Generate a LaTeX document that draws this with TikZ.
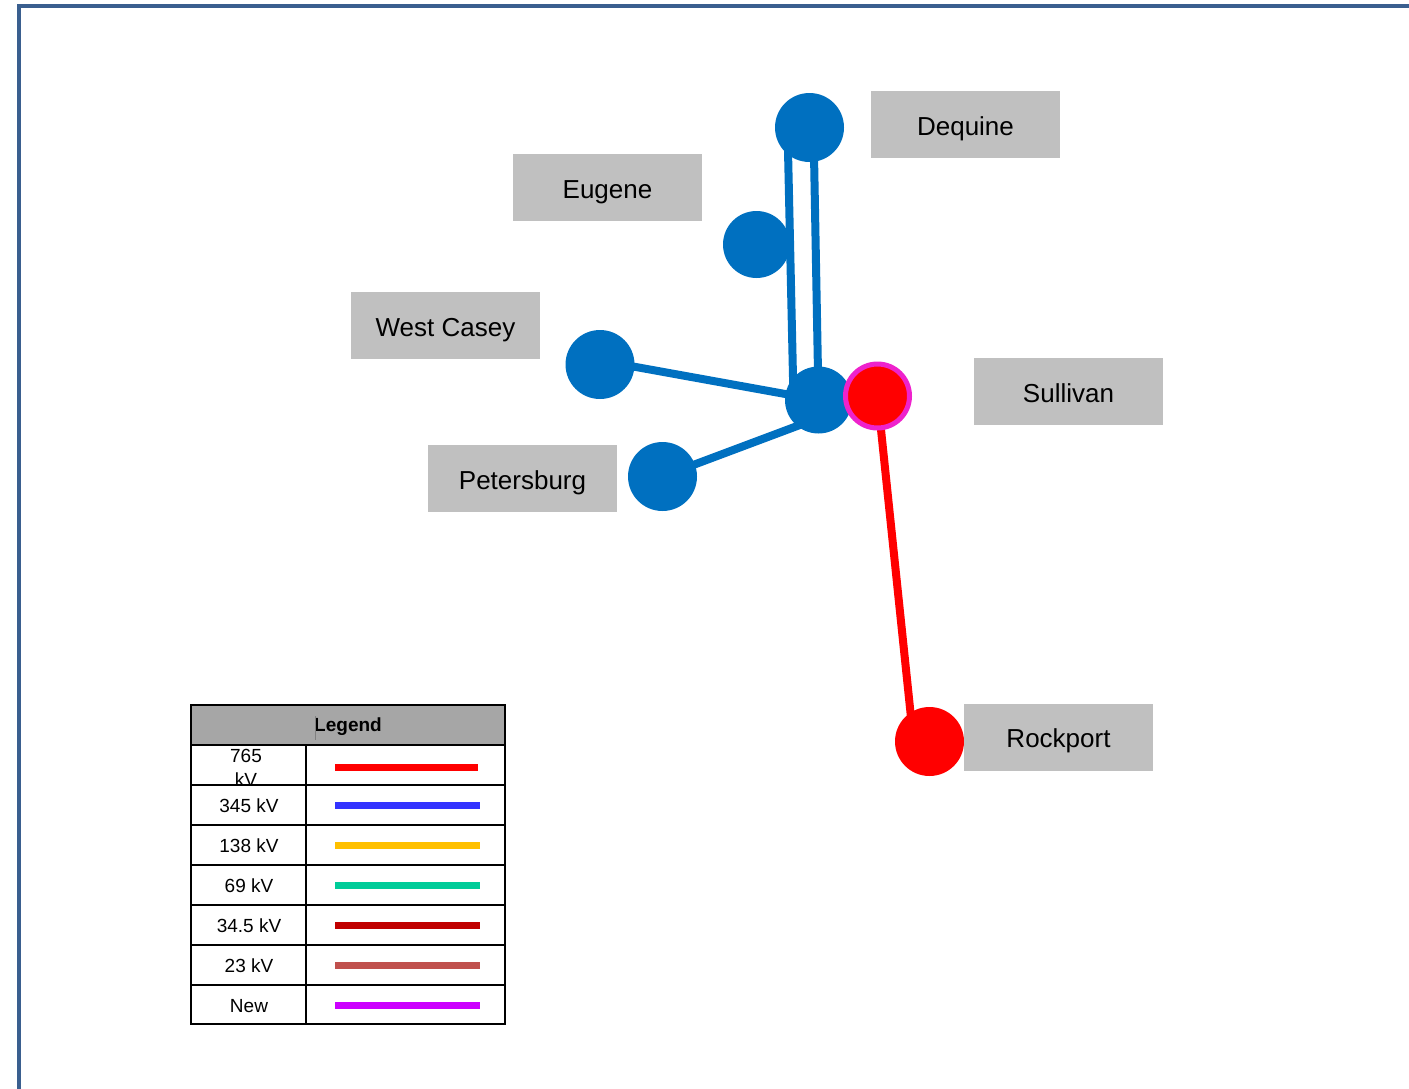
\documentclass[tikz,border=0pt]{standalone}
\usepackage{fontspec}
\setmainfont{Liberation Sans}
\usetikzlibrary{backgrounds}
\definecolor{framblue}{HTML}{3A5F8F}
\definecolor{busblue}{HTML}{0070C0}
\definecolor{labgray}{HTML}{C0C0C0}
\definecolor{headgray}{HTML}{A6A6A6}
\definecolor{newmag}{HTML}{EE22CC}
\definecolor{kvred}{HTML}{FF0000}
\definecolor{kvblue}{HTML}{3333FF}
\definecolor{kvorange}{HTML}{FFC000}
\definecolor{kvgreen}{HTML}{00CC99}
\definecolor{kvdark}{HTML}{C00000}
\definecolor{kvrose}{HTML}{C0504D}
\definecolor{kvnew}{HTML}{CC00FF}
\tikzset{
  bus/.style={circle,fill=busblue,minimum size=34.5pt,inner sep=0pt,outer sep=0pt},
  namebox/.style={fill=labgray,minimum width=94.5pt,minimum height=33.5pt,inner sep=0pt,
    text height=10.8pt,text depth=0pt,font=\fontsize{13}{15}\selectfont},
  line345/.style={busblue,line width=4pt},
  cellfont/.style={font=\fontsize{9.5}{12}\selectfont}
}

\begin{document}
\begin{tikzpicture}[x=0.5pt,y=-0.5pt]
  \useasboundingbox (0,0) rectangle (1409,1088);
  \draw[framblue,line width=2pt] (19,1090) -- (19,6) -- (1411,6);
  % stations
  \node[bus] (deq) at (809.5,127.5) {};
  \node[bus,minimum size=33.5pt] (eug) at (756.5,244.5) {};
  \node[bus] (wca) at (600,364.5) {};
  \node[bus] (pet) at (662.5,476.5) {};
  \node[bus,minimum size=33.5pt] (sulb) at (818.5,400) {};
  \node[circle,fill=kvred,draw=newmag,line width=2.5pt,minimum size=32pt,inner sep=0pt] (sulr) at (877.5,396) {};
  \node[bus,fill=kvred] (rock) at (929.5,741.5) {};
  \begin{scope}[on background layer]
    \draw[line345] ([xshift=-11pt]deq.center) -- ([xshift=-12.5pt]sulb.center);
    \draw[line345] ([xshift=2pt]deq.center) -- (sulb.center);
    \draw[line345] ([yshift=2pt]wca.center) -- (sulb.center);
    \draw[line345] (pet.center) -- ([yshift=-9pt]sulb.center);
    \draw[kvred,line width=4pt] (sulr.center) -- ([xshift=-8pt]rock.center);
  \end{scope}
  % labels
  \node[namebox] (ldeq) at (965.5,124.5) {Dequine};
  \node[namebox] (leug) at (607.5,187.5) {Eugene};
  \node[namebox] (lwca) at (445.5,325.5) {West Casey};
  \node[namebox] (lpet) at (522.5,478.5) {Petersburg};
  \node[namebox] (lsul) at (1068.5,391.5) {Sullivan};
  \node[namebox] (lrock) at (1058.5,737) {Rockport};
  % legend
  \begin{scope}[line width=1pt]
    \fill[headgray] (191,705) rectangle (505,745);
    \node[font=\bfseries\fontsize{9.5}{12}\selectfont] (leghead) at (348,727) {Legend};
    \draw[gray,line width=0.5pt] (315,716) -- (315,740);
    \node[cellfont,align=center] (k765) at (246,768) {765\\kV};
    \draw[kvred,line width=3.5pt] (335,767) -- (478,767);
    \foreach \lab/\col [count=\i] in {345 kV/kvblue,138 kV/kvorange,69 kV/kvgreen,34.5 kV/kvdark,23 kV/kvrose,New/kvnew}{
      \node[cellfont] (k\i) at (249,766+40*\i) {\lab};
      \draw[\col,line width=3.5pt] (335,765+40*\i) -- (480,765+40*\i);
    }
    \foreach \y in {745,785,...,985} \draw (191,\y) -- (505,\y);
    \draw (306,745) -- (306,1024);
    \draw (191,705) rectangle (505,1024);
  \end{scope}
\end{tikzpicture}
\end{document}
